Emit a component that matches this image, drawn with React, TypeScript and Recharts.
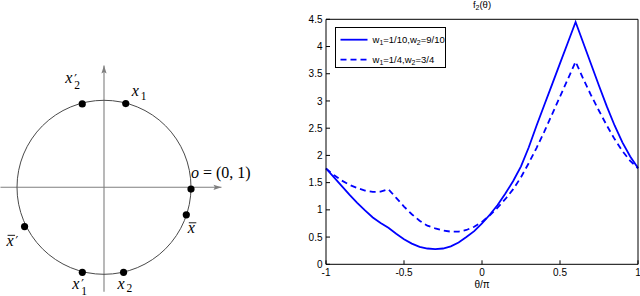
import React from 'react';
import {
  ScatterChart, Scatter, XAxis, YAxis, ReferenceLine, ReferenceDot,
  LineChart, Line, Legend, Customized,
} from 'recharts';

// ---------- Left diagram data (points on the unit circle) ----------
const pointLabels = ['x1', "x2'", 'o', 'xbar', "xbar'", "x1'", 'x2'];
const pointX = [0.25, -0.25, 1.0, 0.946, -0.913, -0.249, 0.225];
const pointY = [0.962, 0.958, -0.02, -0.316, -0.451, -0.977, -0.977];

// ---------- Right chart data ----------
const thetaValues = [
  -1, -0.95, -0.9, -0.85, -0.8, -0.75, -0.7, -0.65, -0.6, -0.55, -0.5,
  -0.45, -0.4, -0.35, -0.3, -0.25, -0.2, -0.15, -0.1, -0.05, 0,
  0.05, 0.1, 0.15, 0.2, 0.25, 0.3, 0.35, 0.4, 0.45, 0.5,
  0.55, 0.6, 0.65, 0.7, 0.75, 0.8, 0.85, 0.9, 0.95, 1,
];
const seriesW110 = [
  1.76, 1.6, 1.44, 1.28, 1.13, 0.99, 0.86, 0.76, 0.67, 0.56, 0.46,
  0.38, 0.32, 0.29, 0.28, 0.29, 0.33, 0.4, 0.5, 0.61, 0.75,
  0.91, 1.09, 1.3, 1.53, 1.8, 2.15, 2.55, 2.93, 3.31, 3.69,
  4.07, 4.45, 4.06, 3.67, 3.28, 2.9, 2.55, 2.24, 1.98, 1.77,
];
const seriesW14 = [
  1.76, 1.64, 1.54, 1.46, 1.4, 1.355, 1.33, 1.335, 1.38, 1.22, 1.06,
  0.92, 0.8, 0.71, 0.66, 0.62, 0.6, 0.6, 0.63, 0.69, 0.78,
  0.9, 1.04, 1.2, 1.38, 1.6, 1.86, 2.14, 2.44, 2.76, 3.08,
  3.4, 3.72, 3.4, 3.1, 2.82, 2.55, 2.3, 2.08, 1.9, 1.76,
];
const xTicks = [-1, -0.5, 0, 0.5, 1];
const yTicks = [0, 0.5, 1, 1.5, 2, 2.5, 3, 3.5, 4, 4.5];
const seriesNames = ['w1=1/10,w2=9/10', 'w1=1/4,w2=3/4'];

const lineData = thetaValues.map((t, i) => ({ theta: t, a: seriesW110[i], b: seriesW14[i] }));
const pointData = pointLabels.map((l, i) => ({ x: pointX[i], y: pointY[i], label: l }));

// ---------- Left diagram layout ----------
const S = 87; // px per unit
const XMIN = -1.19, XMAX = 1.35, YMIN = -1.2, YMAX = 1.4;
const CX = 104, CY = 187.3;
const LW = 260;
const mLeft = CX + XMIN * S;
const mTop = CY - YMAX * S;
const mRight = LW - mLeft - (XMAX - XMIN) * S;
const mBottom = 296 - mTop - (YMAX - YMIN) * S;

const SERIF = '"Liberation Serif", "Times New Roman", serif';
const SANS = '"Liberation Sans", Arial, Helvetica, sans-serif';

const labelSpec: Record<string, any> = {
  'x1': { dx: 6, dy: -7.3, sub: '1' },
  "x2'": { dx: -17, dy: -20.8, sub: '2', prime: true },
  'o': { dx: 0, dy: -10.7, special: true },
  'xbar': { dx: 1.5, dy: 18.5, bar: true },
  "xbar'": { dx: -18, dy: 19.3, bar: true, prime: true },
  "x1'": { dx: -10, dy: 16.3, sub: '1', prime: true },
  'x2': { dx: -6, dy: 16.5, sub: '2' },
};

function MathLabel({ x, y, spec }: { x: number; y: number; spec: any }) {
  if (spec.special) {
    return (
      <text x={x} y={y} fontFamily={SERIF} fontSize={16} fill="#000">
        <tspan fontStyle="italic">o</tspan>
        <tspan> = (0, 1)</tspan>
      </text>
    );
  }
  const primeDy = -0.5;
  return (
    <g>
      <text x={x} y={y} fontFamily={SERIF} fontSize={16} fill="#000">
        <tspan fontStyle="italic">x</tspan>
        {spec.prime && (
          <tspan x={x + 9} dy={primeDy} fontFamily='"DejaVu Sans", sans-serif' fontSize={12}>′</tspan>
        )}
        {spec.sub && (
          <tspan x={x + 9} dy={(spec.prime ? 6 - primeDy : 3.5)} fontSize={11.5}>{spec.sub}</tspan>
        )}
      </text>
      {spec.bar && <line x1={x + 1} x2={x + 8.5} y1={y - 10.5} y2={y - 10.5} stroke="#000" strokeWidth={0.9} />}
    </g>
  );
}

function PointMark(props: any) {
  const { cx, cy, payload } = props;
  const spec = labelSpec[payload.label];
  return (
    <g>
      <circle cx={cx} cy={cy} r={3.6} fill="#000" />
      <MathLabel x={cx + spec.dx} y={cy + spec.dy} spec={spec} />
    </g>
  );
}

function AxisArrow(p: any) {
  const { x1, y1, x2, y2 } = p;
  const horizontal = Math.abs(y1 - y2) < 0.5;
  let d = '';
  if (horizontal) {
    const tx = Math.max(x1, x2);
    d = `M${tx},${y1} L${tx - 8},${y1 - 2.6} L${tx - 6.5},${y1} L${tx - 8},${y1 + 2.6} Z`;
  } else {
    const ty = Math.min(y1, y2);
    d = `M${x1},${ty} L${x1 - 2.6},${ty + 8} L${x1},${ty + 6.5} L${x1 + 2.6},${ty + 8} Z`;
  }
  return (
    <g>
      <line x1={x1} y1={y1} x2={x2} y2={y2} stroke="#7f7f7f" strokeWidth={1.1} />
      <path d={d} fill="#7f7f7f" />
    </g>
  );
}

// ---------- Right chart legend ----------
function SubText({ text }: { text: string }) {
  // "w1=1/10,w2=9/10" -> w with subscript digits
  const parts: React.ReactNode[] = [];
  let i = 0;
  let k = 0;
  let lowered = false;
  while (i < text.length) {
    if (text[i] === 'w' && i + 1 < text.length) {
      parts.push(<tspan key={k++} dy={lowered ? -2.5 : 0}>w</tspan>);
      parts.push(<tspan key={k++} fontSize={7} dy={2.5}>{text[i + 1]}</tspan>);
      lowered = true;
      i += 2;
    } else {
      let j = i;
      while (j < text.length && text[j] !== 'w') j++;
      parts.push(<tspan key={k++} dy={lowered ? -2.5 : 0}>{text.slice(i, j)}</tspan>);
      lowered = false;
      i = j;
    }
  }
  return <>{parts}</>;
}

function LegendBox() {
  return (
    <svg width={112} height={42} style={{ display: 'block' }}>
      <rect x={0.5} y={0.5} width={110} height={40} fill="#fff" stroke="#000" strokeWidth={1} />
      <line x1={5.5} x2={32.5} y1={12.7} y2={12.7} stroke="#0000ff" strokeWidth={1.8} />
      <line x1={5.5} x2={32.5} y1={32.7} y2={32.7} stroke="#0000ff" strokeWidth={1.8} strokeDasharray="6 4" />
      <text x={37.5} y={15.5} fontFamily={SANS} fontSize={9.5} fill="#000"><SubText text={seriesNames[0]} /></text>
      <text x={37.5} y={35.5} fontFamily={SANS} fontSize={9.5} fill="#000"><SubText text={seriesNames[1]} /></text>
    </svg>
  );
}

function Title() {
  return (
    <text x={182} y={8} textAnchor="middle" fontFamily={SANS} fontSize={9.5} fill="#000">
      <tspan>f</tspan>
      <tspan fontSize={7} dy={2}>2</tspan>
      <tspan dy={-2}>(θ)</tspan>
    </text>
  );
}

const tickStyle = { fill: '#000', fontSize: 10, fontFamily: SANS };

export default function App() {
  return (
    <div style={{ position: 'absolute', left: 0, top: 0, width: 640, height: 296, background: '#fff', overflow: 'hidden' }}>
      <div style={{ position: 'absolute', left: 0, top: 0 }}>
        <ScatterChart width={LW} height={296} margin={{ top: mTop, right: mRight, bottom: mBottom, left: mLeft }}>
          <XAxis type="number" dataKey="x" domain={[XMIN, XMAX]} hide />
          <YAxis type="number" dataKey="y" domain={[YMIN, YMAX]} hide />
          <ReferenceDot x={0} y={0} r={S} fill="none" stroke="#4a4a4a" strokeWidth={1} />
          <ReferenceLine y={0} shape={AxisArrow} />
          <ReferenceLine x={0} shape={AxisArrow} />
          <Scatter data={pointData} isAnimationActive={false} shape={(p: any) => <PointMark {...p} />} />
        </ScatterChart>
      </div>
      <div style={{ position: 'absolute', left: 300, top: 0 }}>
        <LineChart width={340} height={296} data={lineData} margin={{ top: 18.3, right: 1, bottom: 0, left: 0 }}>
          <XAxis
            dataKey="theta" type="number" domain={[-1, 1]} ticks={xTicks} height={31.7}
            tick={tickStyle} tickSize={-4} tickMargin={9} stroke="#000" interval={0}
            label={{ value: 'θ/π', position: 'insideBottom', offset: 8, fill: '#000', fontSize: 10, fontFamily: SANS }}
          />
          <XAxis xAxisId="top" orientation="top" dataKey="theta" type="number" domain={[-1, 1]} ticks={xTicks}
            height={1} tick={false} tickSize={-4} stroke="#000" interval={0} />
          <YAxis type="number" domain={[0, 4.5]} ticks={yTicks} width={26} tick={tickStyle}
            tickSize={-4} tickMargin={7.5} stroke="#000" interval={0} />
          <YAxis yAxisId="right" orientation="right" type="number" domain={[0, 4.5]} ticks={yTicks}
            width={1} tick={false} tickSize={-4} stroke="#000" interval={0} />
          <Line dataKey="a" name={seriesNames[0]} type="linear" stroke="#0000ff" strokeWidth={1.8} dot={false} isAnimationActive={false} />
          <Line dataKey="b" name={seriesNames[1]} type="linear" stroke="#0000ff" strokeWidth={1.8} strokeDasharray="6 4" dot={false} isAnimationActive={false} />
          <Legend layout="horizontal" verticalAlign="middle" align="center"
            wrapperStyle={{ left: 35, top: 27, width: 112, height: 42 }}
            content={() => <LegendBox />} />
          <Customized component={Title} />
        </LineChart>
      </div>
    </div>
  );
}
